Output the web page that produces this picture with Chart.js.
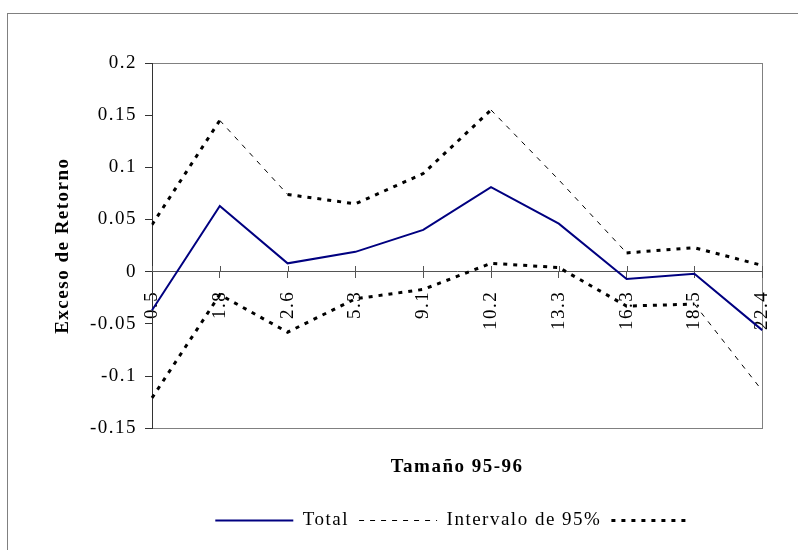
<!DOCTYPE html>
<html>
<head>
<meta charset="utf-8">
<script src="https://cdn.jsdelivr.net/npm/chart.js@4"></script>
<style>
  html, body { margin: 0; padding: 0; background: #fff; overflow: hidden; }
  canvas { display: block; }
</style>
</head>
<body>
<canvas id="c" width="798" height="550"></canvas>
<script>
// Size buckets (x categories)
const sizes = ['0.5', '1.8', '2.6', '5.3', '9.1', '10.2', '13.3', '16.3', '18.5', '22.4'];
// Excess return, all stocks
const total = [-0.037, 0.063, 0.008, 0.019, 0.040, 0.081, 0.046, -0.007, -0.002, -0.056];
// 95% confidence band
const upper = [0.045, 0.145, 0.074, 0.065, 0.094, 0.155, 0.088, 0.018, 0.023, 0.006];
const lower = [-0.121, -0.022, -0.058, -0.026, -0.017, 0.008, 0.004, -0.033, -0.031, -0.114];
// Y axis tick values
const yTicks = [-0.15, -0.1, -0.05, 0, 0.05, 0.1, 0.15, 0.2];

// segments (by starting point index) drawn with the fine dash
const upperThinSegments = [1, 5, 6];
const lowerThinSegments = [8];

const FAMILY = "'Liberation Serif', 'Times New Roman', serif";
const LETTER_SPACING = '1.5px';
const tickFont = { family: FAMILY, size: 19 };
const boldFont = { family: FAMILY, size: 19, weight: 'bold' };

const thinStyle = { width: 1, dash: [5, 6] };
const thickStyle = { width: 3, dash: [4, 6] };
function bandSegments(thinList) {
  return {
    borderWidth: c => thinList.includes(c.p0DataIndex) ? thinStyle.width : thickStyle.width,
    borderDash: c => thinList.includes(c.p0DataIndex) ? thinStyle.dash : thickStyle.dash
  };
}

// wide letter spacing, plot frame, outer frame and tick marks above the zero line
const decor = {
  id: 'decor',
  beforeUpdate(chart) { chart.ctx.letterSpacing = LETTER_SPACING; },
  beforeLayout(chart) { chart.ctx.letterSpacing = LETTER_SPACING; },
  beforeDraw(chart) {
    const { ctx, chartArea: a } = chart;
    ctx.letterSpacing = LETTER_SPACING;
    ctx.save();
    ctx.strokeStyle = '#808080';
    ctx.lineWidth = 1;
    ctx.strokeRect(7.5, 13.5, 1200, 1200);
    ctx.strokeRect(Math.round(a.left) + 0.5, Math.round(a.top) + 0.5,
                   Math.round(a.right - a.left), Math.round(a.bottom - a.top));
    ctx.restore();
  },
  beforeDatasetsDraw(chart) {
    const { ctx } = chart;
    const xs = chart.scales.x, ys = chart.scales.y;
    const y0 = Math.round(ys.getPixelForValue(0));
    ctx.save();
    ctx.strokeStyle = '#555';
    ctx.lineWidth = 1;
    ctx.beginPath();
    xs.ticks.forEach((t, i) => {
      const px = Math.round(xs.getPixelForTick(i)) + 0.5;
      ctx.moveTo(px, y0 - 6);
      ctx.lineTo(px, y0);
    });
    ctx.stroke();
    ctx.restore();
  }
};

Chart.defaults.color = '#000';
Chart.defaults.font.family = FAMILY;

new Chart(document.getElementById('c'), {
  type: 'line',
  data: {
    labels: sizes,
    datasets: [
      {
        label: 'Total',
        data: total,
        borderColor: '#000080',
        backgroundColor: '#000080',
        borderWidth: 2,
        pointRadius: 0,
        tension: 0
      },
      {
        label: 'Intervalo de 95%',
        data: upper,
        borderColor: '#000',
        backgroundColor: '#000',
        borderWidth: thinStyle.width,
        borderDash: thinStyle.dash,
        pointRadius: 0,
        tension: 0,
        segment: bandSegments(upperThinSegments)
      },
      {
        label: '',
        data: lower,
        borderColor: '#000',
        backgroundColor: '#000',
        borderWidth: thickStyle.width,
        borderDash: thickStyle.dash,
        pointRadius: 0,
        tension: 0,
        segment: bandSegments(lowerThinSegments)
      }
    ]
  },
  options: {
    responsive: false,
    animation: false,
    events: [],
    layout: { padding: { left: 40, right: 35, top: 63, bottom: 10 } },
    scales: {
      x: {
        type: 'category',
        position: { y: 0 },
        offset: false,
        afterFit: s => { s.height = 0; },
        border: { display: true, color: '#555', width: 1 },
        grid: { drawOnChartArea: false, drawTicks: true, tickLength: 6, color: '#555', offset: false },
        ticks: { autoSkip: false, minRotation: 90, maxRotation: 90, padding: 13, font: tickFont, color: '#000' }
      },
      y: {
        min: -0.15,
        max: 0.2,
        afterBuildTicks: s => { s.ticks = yTicks.map(v => ({ value: v })); },
        afterFit: s => { s.width = 112; },
        border: { display: true, color: '#333', width: 1 },
        grid: { drawOnChartArea: false, drawTicks: true, tickLength: 7, color: '#333' },
        ticks: { padding: 8, font: tickFont, color: '#000', callback: v => String(v) },
        title: { display: true, text: 'Exceso de Retorno', font: boldFont, color: '#000', padding: { top: 12, bottom: 0 } }
      }
    },
    plugins: {
      tooltip: { enabled: false },
      title: {
        display: true,
        text: 'Tamaño 95-96',
        position: 'bottom',
        fullSize: false,
        weight: 500,
        font: boldFont,
        color: '#000',
        padding: { top: 27, bottom: 23 }
      },
      legend: {
        display: true,
        position: 'bottom',
        fullSize: false,
        labels: {
          usePointStyle: true,
          pointStyle: 'line',
          pointStyleWidth: 78,
          padding: 10,
          font: tickFont,
          color: '#000',
          generateLabels: chart => chart.data.datasets.map((ds, i) => ({
            text: ds.label,
            fillStyle: ds.borderColor,
            strokeStyle: ds.borderColor,
            lineWidth: ds.borderWidth,
            lineDash: ds.borderDash || [],
            lineCap: 'butt',
            pointStyle: 'line',
            hidden: false,
            datasetIndex: i,
            fontColor: '#000'
          }))
        }
      }
    }
  },
  plugins: [decor]
});
</script>
</body>
</html>
